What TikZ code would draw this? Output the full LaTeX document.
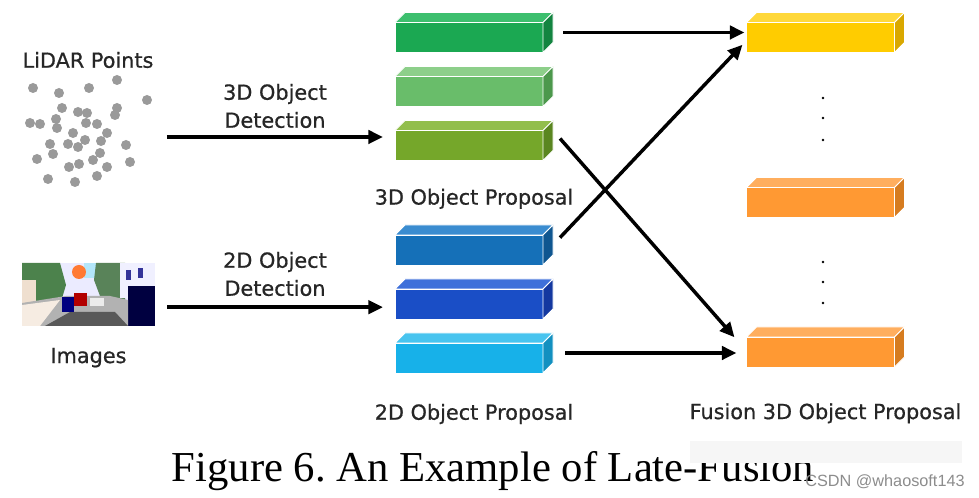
\documentclass[tikz,border=0pt]{standalone}
\usepackage{fontspec}
\setmainfont{DejaVu Sans}
\newfontfamily\lblfont{DejaVu Sans}[FakeBold=0.7]
\newfontfamily\capfont{Liberation Serif}
\newfontfamily\markfont{Liberation Sans}
\usetikzlibrary{positioning, calc, arrows.meta}
\frenchspacing

\definecolor{dotgray}{HTML}{9A9A9A}
\definecolor{gAfront}{HTML}{1BA852}\definecolor{gAtop}{HTML}{3DBF6E}\definecolor{gAside}{HTML}{138440}
\definecolor{gBfront}{HTML}{69BD6A}\definecolor{gBtop}{HTML}{8DCF8A}\definecolor{gBside}{HTML}{4C984C}
\definecolor{gCfront}{HTML}{75A72A}\definecolor{gCtop}{HTML}{92BE4C}\definecolor{gCside}{HTML}{5A8620}
\definecolor{bAfront}{HTML}{1570B8}\definecolor{bAtop}{HTML}{3A8CD0}\definecolor{bAside}{HTML}{0F5690}
\definecolor{bBfront}{HTML}{1A4EC6}\definecolor{bBtop}{HTML}{3E70DA}\definecolor{bBside}{HTML}{1438A0}
\definecolor{bCfront}{HTML}{17B1E9}\definecolor{bCtop}{HTML}{48C4EF}\definecolor{bCside}{HTML}{1290C0}
\definecolor{yfront}{HTML}{FFCC00}\definecolor{ytop}{HTML}{FFD83A}\definecolor{yside}{HTML}{D9A800}
\definecolor{ofront}{HTML}{FF9933}\definecolor{otop}{HTML}{FFAE5E}\definecolor{oside}{HTML}{D67C20}

\tikzset{
    slabnode/.style={minimum width=118.5pt, minimum height=30pt, inner sep=0pt, outer sep=0pt},
    flow/.style={line width=2.6pt, -{Triangle[length=11pt,width=10pt]}},
    lbl/.style={font=\lblfont\fontsize{15.6}{21}\selectfont, text=black!85, align=center, inner sep=0pt},
    face/.style={draw=white, line width=0.7pt, line join=round}
}

% faces of one proposal box: node, front, top, side
\newcommand{\slabfaces}[4]{%
    \filldraw[face, fill=#2] ($(#1.north west)+(0pt,-7.5pt)$) rectangle ($(#1.south east)+(-7.5pt,0pt)$);
    \filldraw[face, fill=#3] ($(#1.north west)+(0pt,-7.5pt)$) -- ($(#1.north west)+(7.5pt,0pt)$)
        -- (#1.north east) -- ($(#1.north east)+(-7.5pt,-7.5pt)$) -- cycle;
    \filldraw[face, fill=#4] ($(#1.north east)+(-7.5pt,-7.5pt)$) -- (#1.north east)
        -- ($(#1.south east)+(0pt,7.5pt)$) -- ($(#1.south east)+(-7.5pt,0pt)$) -- cycle;
}

\begin{document}
\begin{tikzpicture}[x=0.75pt, y=-0.75pt, node distance=10.5pt]
    \useasboundingbox (0,0) rectangle (979,498);

    % LiDAR input
    \node[lbl] (lidar) at (88,60) {LiDAR Points};
    \node[minimum width=95pt, minimum height=82pt, inner sep=0pt] (cloud) at (88,137) {};
    \foreach \px/\py in {33/88, 59/93, 89/88, 117/80, 147/100, 62/108, 78/112, 87/113,
        117/108, 115/115, 30/123, 40/124, 56/119, 57/128, 86/123, 97/124, 73/133, 107/133,
        50/144, 68/144, 78/147, 85/140, 101/141, 126/145, 37/159, 53/154, 100/153, 93/160,
        69/167, 79/164, 107/167, 130/162, 48/179, 75/182, 97/176}
        \fill[dotgray] (\px,\py) circle (3.75pt);

    % camera input
    \node[minimum width=99.75pt, minimum height=47.25pt, inner sep=0pt] (photo) at (88.5,294.5) {};
    \begin{scope}
        \clip (photo.north west) rectangle (photo.south east);
        \fill[blue!8!white] (22,263) rectangle (155,326);
        \fill[cyan!30!white] (84,263) rectangle (106,278);
        \fill[green!30!black!70] (22,263) -- (60,263) -- (66,285) -- (60,305) -- (22,305) -- cycle;
        \fill[brown!25!white] (22,280) rectangle (36,305);
        \fill[orange!70!red!80] (79,272) ellipse (7 and 7);
        \fill[green!25!black!65] (96,263) -- (125,263) -- (125,300) -- (100,296) -- (94,280) -- cycle;
        \fill[blue!6!white] (120,263) rectangle (155,298);
        \fill[blue!50!black!80] (126,270) rectangle (131,280);
        \fill[blue!50!black!80] (138,268) rectangle (143,278);
        \fill[black!75!blue] (128,286) rectangle (155,326);
        \fill[gray!60] (22,303) -- (66,296) -- (110,296) -- (128,300) -- (128,326) -- (22,326) -- cycle;
        \fill[brown!15!white] (22,305) -- (60,300) -- (40,326) -- (22,326) -- cycle;
        \fill[black!65] (45,326) -- (70,312) -- (115,312) -- (128,326) -- cycle;
        \fill[gray!15] (90,298) rectangle (104,306);
        \fill[blue!50!black] (62,297) rectangle (74,312);
        \fill[red!70!black] (74,293) rectangle (87,306);
    \end{scope}
    \node[lbl, below=16pt of photo] (images) {Images};

    % detection arrows
    \draw[flow, shorten <=11.5pt, shorten >=9pt] (cloud.east) -- (cloud.east -| 395,0);
    \node[lbl] (det3d) at (275,106) {3D Object\\Detection};
    \draw[flow, shorten <=9pt, shorten >=9pt] ([yshift=-9.5pt]photo.east) -- ([yshift=-9.5pt]photo.east -| 395,0);
    \node[lbl] (det2d) at (275,274) {2D Object\\Detection};

    % 3D proposals
    \node[slabnode] (g1) at (474,32.5) {};
    \node[slabnode, below=of g1] (g2) {};
    \node[slabnode, below=of g2] (g3) {};
    \slabfaces{g1}{gAfront}{gAtop}{gAside}
    \slabfaces{g2}{gBfront}{gBtop}{gBside}
    \slabfaces{g3}{gCfront}{gCtop}{gCside}
    \node[lbl, below=21pt of g3] (prop3d) {3D Object Proposal};

    % 2D proposals
    \node[slabnode] (b1) at (474,245) {};
    \node[slabnode, below=of b1] (b2) {};
    \node[slabnode, below=of b2] (b3) {};
    \slabfaces{b1}{bAfront}{bAtop}{bAside}
    \slabfaces{b2}{bBfront}{bBtop}{bBside}
    \slabfaces{b3}{bCfront}{bCtop}{bCside}
    \node[lbl, below=23pt of b3] (prop2d) {2D Object Proposal};

    % fused proposals
    \node[slabnode] (y1) at (825.5,32.5) {};
    \node[slabnode] (o2) at (825.5,197.5) {};
    \node[slabnode] (o3) at (825.5,347) {};
    \slabfaces{y1}{yfront}{ytop}{yside}
    \slabfaces{o2}{ofront}{otop}{oside}
    \slabfaces{o3}{ofront}{otop}{oside}
    \node[lbl, below=27pt of o3] (fused) {Fusion 3D Object Proposal};
    \foreach \py in {98,118,140,262,282,303}
        \fill (823,\py) circle (1.1pt);

    % fusion arrows
    \draw[flow, shorten <=7.5pt, shorten >=1.5pt] (g1.east) -- (y1.west);
    \draw[flow, shorten <=7.6pt, shorten >=4.4pt] (b1.east) -- ([yshift=-6pt]y1.west);
    \draw[flow, shorten <=8pt, shorten >=13.7pt] ([yshift=7.5pt]g3.east) -- ([yshift=-3pt]o3.west);
    \draw[flow, shorten <=9pt, shorten >=7.5pt] (b3.east) -- (b3.east -| o3.west);

    % caption
    \node[font=\capfont\fontsize{32}{36}\selectfont, inner sep=0pt] (caption) at (493,471) {Figure 6. An Example of Late-Fusion};
    \fill[gray!7] (690,441) rectangle (962,463);
    \node[font=\markfont\fontsize{12.2}{14}\selectfont, text=black!45, inner sep=0pt] (mark) at (885,482) {CSDN @whaosoft143};
\end{tikzpicture}
\end{document}
